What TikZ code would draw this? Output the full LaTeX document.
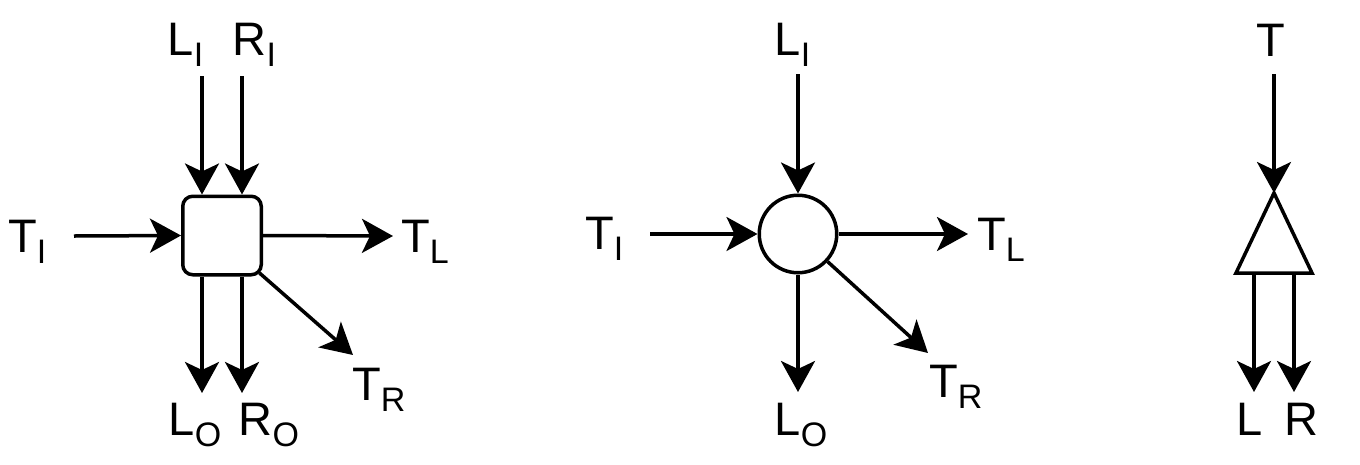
\documentclass[tikz,border=0pt]{standalone}
\usepackage{fontspec}
\setmainfont{Liberation Sans}
\usetikzlibrary{arrows.meta,calc}
\newcommand{\sbs}[1]{\raisebox{-11pt}{\fontsize{34}{36}\selectfont #1}}
\tikzset{
  arr/.style={line width=3.5pt, -{Stealth[length=31pt,width=34pt,inset=8pt]}},
  lab/.style={inner sep=0pt, anchor=base west, font=\fontsize{47}{50}\selectfont},
  shp/.style={draw, line width=3.5pt, inner sep=0pt},
}
\begin{document}
\begin{tikzpicture}[x=1pt,y=-1pt]
\path[use as bounding box] (0,0) rectangle (1360,464);
% ---------- panel 1 ----------
\node[shp, rounded corners=10pt, minimum width=78.5pt, minimum height=78.5pt] (box) at (222,235.5) {};
\node[lab] (aTI) at (8,252) {T\sbs{I}};
\node[lab] (aLI) at (167.5,55) {L\sbs{I}};
\node[lab] (aRI) at (232.5,55) {R\sbs{I}};
\node[lab] (aTL) at (401,252) {T\sbs{L}};
\node[lab] (aLO) at (168.5,435) {L\sbs{O}};
\node[lab] (aRO) at (238.5,435) {R\sbs{O}};
\node[lab] (aTR) at (352,400) {T\sbs{R}};
\coordinate (aLIs) at (202,76);
\coordinate (aRIs) at (242,76);
\coordinate (aTIs) at (74,236);
\coordinate (aTLe) at (393,236);
\coordinate (aLOe) at (202,393);
\coordinate (aROe) at (242,393);
\coordinate (aTRs) at ($(box.south east)+(-3.5,-3.5)$);
\coordinate (aTRe) at (353,355);
\draw[arr] (aLIs) -- (aLIs |- box.north);
\draw[arr] (aRIs) -- (aRIs |- box.north);
\draw[arr] (aTIs) -- (box.west);
\draw[arr] (box.east) -- (aTLe);
\draw[arr] (aLOe |- box.south) -- (aLOe);
\draw[arr] (aROe |- box.south) -- (aROe);
\draw[arr] (aTRs) -- (aTRe);
% ---------- panel 2 ----------
\node[shp, circle, minimum size=77.5pt] (circ) at (798,234) {};
\node[lab] (bLI) at (774.5,55) {L\sbs{I}};
\node[lab] (bTI) at (585,249) {T\sbs{I}};
\node[lab] (bTL) at (977,250) {T\sbs{L}};
\node[lab] (bLO) at (774.5,435) {L\sbs{O}};
\node[lab] (bTR) at (929,397) {T\sbs{R}};
\coordinate (bLIs) at (798,74);
\coordinate (bTIs) at (650,234);
\coordinate (bTLe) at (968,234);
\coordinate (bLOe) at (798,392);
\coordinate (bTRe) at (928,353);
\draw[arr] (bLIs) -- (circ.north);
\draw[arr] (bTIs) -- (circ.west);
\draw[arr] (circ.east) -- (bTLe);
\draw[arr] (circ.south) -- (bLOe);
\draw[arr] (circ.-43) -- (bTRe);
% ---------- panel 3 ----------
\node[lab] (cT) at (1256,56) {T};
\node[lab] (cL) at (1236.6,435) {L};
\node[lab] (cR) at (1284.5,435) {R};
\coordinate (tA) at (1274,193);
\coordinate (tBL) at (1236,273);
\coordinate (tBR) at (1312,273);
\draw[line width=3.5pt] (tA) -- (tBL) -- (tBR) -- cycle;
\coordinate (cTs) at (1274,74);
\coordinate (cLs) at (1254,273);
\coordinate (cRs) at (1294,273);
\coordinate (cLe) at (1254,392);
\coordinate (cRe) at (1294,392);
\draw[arr] (cTs) -- (tA);
\draw[arr] (cLs) -- (cLe);
\draw[arr] (cRs) -- (cRe);
\end{tikzpicture}
\end{document}
